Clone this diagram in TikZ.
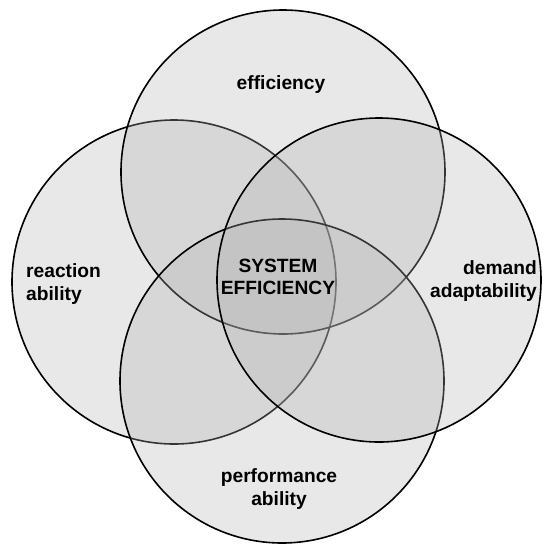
\documentclass[tikz,border=0pt]{standalone}
\usepackage{fontspec}
\setmainfont{Liberation Sans}
\begin{document}
\begin{tikzpicture}[x=1pt, y=-1pt,
		circ/.style={circle, draw=black, line width=1.6pt, fill=black!30, fill opacity=0.3, minimum size=324pt, inner sep=0pt},
		lbl/.style={font=\fontsize{19.2}{22.5}\selectfont\bfseries, inner sep=0pt, text opacity=1}]
		\useasboundingbox (0,0) rectangle (542,550);
		\node[circ] (left) at (174,282) {};
		\node[circ] (top) at (283,172) {};
		\node[circ] (bottom) at (282,381) {};
		\node[circ] (right) at (379,280) {};
		\node[lbl, align=center] (eff) at (281,85) {efficiency};
		\node[lbl, align=left, anchor=west] (react) at (26,284) {reaction\\ability};
		\node[lbl, align=right, anchor=east] (demand) at (537,281) {demand\\adaptability};
		\node[lbl, align=center] (perf) at (279,489) {performance\\ability};
		\node[lbl, align=center] (sys) at (278,277) {SYSTEM\\EFFICIENCY};
	\end{tikzpicture}
\end{document}
